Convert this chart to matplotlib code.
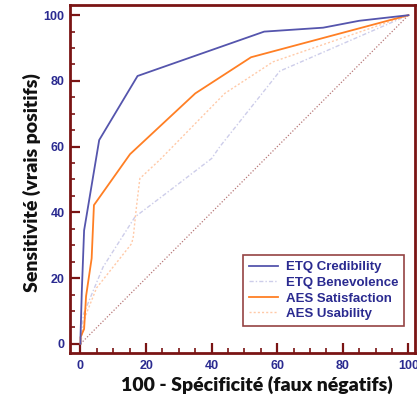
import matplotlib
matplotlib.use("Agg")
import matplotlib.pyplot as plt
from matplotlib.ticker import MultipleLocator

# Data
series_names = ["ETQ Credibility", "ETQ Benevolence", "AES Satisfaction", "AES Usability"]

etq_cred_x = [0, 0, 0.4, 1.1, 5.7, 17.4, 56, 74, 85, 100]
etq_cred_y = [0, 2, 16, 34.5, 62, 81.5, 95, 96.2, 98.3, 100]

etq_bene_x = [0, 0.9, 6.9, 16.6, 27.3, 40, 42.5, 60.8, 100]
etq_bene_y = [0, 9, 23.4, 38.6, 46.7, 56.4, 60, 83, 100]

aes_sat_x = [0, 0, 1.1, 1.7, 3.4, 4.1, 15.1, 35, 52, 100]
aes_sat_y = [0, 2, 4.5, 14.5, 26, 42.2, 57.7, 76.2, 87.2, 100]

aes_use_x = [0, 1.4, 4.9, 15.6, 16.1, 17.1, 18.1, 24.2, 44, 58.7, 100]
aes_use_y = [0, 8.2, 17, 30.5, 32.6, 42, 50.3, 56, 76.2, 85.8, 100]

diag_x = [0, 100]
diag_y = [0, 100]

x_ticks = [0, 20, 40, 60, 80, 100]
y_ticks = [0, 20, 40, 60, 80, 100]

W, H = 417, 399
fig = plt.figure(figsize=(W / 100, H / 100), dpi=100)
ax = fig.add_axes([70 / W, (H - 353) / H, 345 / W, 348 / H])

frame = "#7a1414"
tickcol = "#2a2a90"

ax.plot(diag_x, diag_y, color="#b87878", lw=0.9, ls=(0, (1, 1.5)), zorder=1)
ax.plot(etq_bene_x, etq_bene_y, color="#cdcdea", lw=1.0, ls=(0, (3, 1.5, 1, 1.5)), label=series_names[1], zorder=2)
ax.plot(aes_use_x, aes_use_y, color="#ffcaa8", lw=1.0, ls=(0, (1.5, 1.5)), label=series_names[3], zorder=2)
ax.plot(aes_sat_x, aes_sat_y, color="#ff7f24", lw=1.3, label=series_names[2], zorder=3)
ax.plot(etq_cred_x, etq_cred_y, color="#5555ad", lw=1.3, label=series_names[0], zorder=4)

ax.set_xlim(-3.2, 102)
ax.set_ylim(-2.8, 103.1)

for s in ax.spines.values():
    s.set_color(frame)
    s.set_linewidth(2)

ax.set_xticks(x_ticks)
ax.set_yticks(y_ticks)
ax.xaxis.set_minor_locator(MultipleLocator(5))
ax.yaxis.set_minor_locator(MultipleLocator(5))
ax.tick_params(which="major", direction="in", length=7, width=1.6, color=frame,
               labelcolor=tickcol, labelsize=9)
ax.tick_params(which="minor", direction="in", length=3.5, width=1.2, color=frame)
ax.tick_params(axis="x", which="major", pad=5)
ax.tick_params(axis="y", which="major", pad=4)
for lab in ax.get_xticklabels() + ax.get_yticklabels():
    lab.set_fontfamily("Liberation Sans")
    lab.set_fontweight("bold")

fig.text(257 / W, (H - 385) / H, "100 - Spécificité (faux négatifs)", ha="center", va="center",
         fontsize=14, fontweight="heavy", family="Lato", color="#111111")
fig.text(31.5 / W, (H - 183) / H, "Sensitivité (vrais positifs)", ha="center", va="center",
         rotation=90, fontsize=14, fontweight="heavy", family="Lato", color="#111111")

handles, labels = ax.get_legend_handles_labels()
order = [labels.index(n) for n in series_names]
leg = ax.legend([handles[i] for i in order], [labels[i] for i in order],
                loc="lower right", bbox_to_anchor=(404 / W, (H - 326) / H),
                bbox_transform=fig.transFigure, fancybox=False, frameon=True,
                prop={"family": "Liberation Sans", "weight": "bold", "size": 9.5},
                handlelength=2.2, handletextpad=0.6, labelspacing=0.25,
                borderpad=0.45, borderaxespad=0)
leg.get_frame().set_edgecolor(frame)
leg.get_frame().set_linewidth(1.2)
for t in leg.get_texts():
    t.set_color(tickcol)

fig.savefig("out.png", dpi=100)
